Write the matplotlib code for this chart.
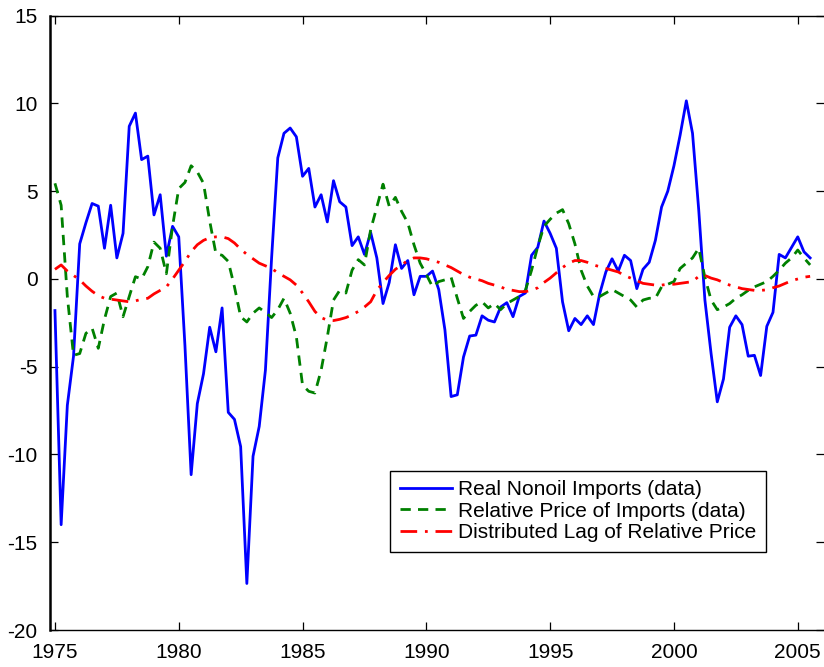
import matplotlib
matplotlib.use("Agg")
import matplotlib.pyplot as plt
import numpy as np

# quarterly observations, 1975Q1 .. 2005Q3
quarters = np.arange(1975.0, 2005.51, 0.25)

real_nonoil_imports = [
    -1.8, -14.0, -7.2, -4.4,      # 1975
    2.0, 3.2, 4.3, 4.15,          # 1976
    1.75, 4.2, 1.2, 2.6,          # 1977
    8.7, 9.45, 6.8, 7.0,          # 1978
    3.65, 4.8, 1.3, 3.0,          # 1979
    2.4, -3.8, -11.15, -7.1,      # 1980
    -5.4, -2.75, -4.15, -1.65,    # 1981
    -7.6, -8.0, -9.55, -17.35,    # 1982
    -10.1, -8.4, -5.2, 1.2,       # 1983
    6.9, 8.3, 8.6, 8.1,           # 1984
    5.85, 6.3, 4.1, 4.8,          # 1985
    3.25, 5.6, 4.4, 4.1,          # 1986
    1.9, 2.4, 1.4, 2.65,          # 1987
    1.2, -1.4, -0.2, 1.95,        # 1988
    0.6, 1.05, -0.9, 0.15,        # 1989
    0.15, 0.45, -0.6, -2.9,       # 1990
    -6.7, -6.6, -4.45, -3.25,     # 1991
    -3.2, -2.1, -2.35, -2.45,     # 1992
    -1.6, -1.35, -2.15, -1.0,     # 1993
    -0.8, 1.35, 1.8, 3.3,         # 1994
    2.6, 1.75, -1.3, -2.95,       # 1995
    -2.25, -2.6, -2.1, -2.6,      # 1996
    -0.85, 0.4, 1.15, 0.45,       # 1997
    1.35, 1.05, -0.55, 0.55,      # 1998
    0.95, 2.2, 4.1, 5.0,          # 1999
    6.45, 8.2, 10.15, 8.3,        # 2000
    3.95, -1.2, -4.25, -7.0,      # 2001
    -5.7, -2.75, -2.1, -2.6,      # 2002
    -4.4, -4.35, -5.5, -2.7,      # 2003
    -1.9, 1.4, 1.2, 1.8,          # 2004
    2.4, 1.55, 1.2,               # 2005
]

relative_price = [
    5.45, 4.2, -1.0, -4.35,
    -4.25, -3.1, -2.8, -3.95,
    -2.3, -1.0, -0.8, -2.15,
    -1.0, 0.13, 0.0, 0.7,
    2.1, 1.75, 0.3, 3.0,
    5.15, 5.5, 6.45, 6.1,
    5.45, 3.3, 1.45, 1.35,
    1.0, -0.45, -2.15, -2.45,
    -1.95, -1.65, -1.9, -2.2,
    -1.75, -1.1, -1.95, -3.3,
    -6.05, -6.4, -6.5, -5.2,
    -3.3, -1.2, -0.65, -0.8,
    0.5, 1.1, 0.8, 2.8,
    4.1, 5.4, 4.15, 4.65,
    3.85, 3.2, 1.95, 0.9,
    0.25, -0.45, -0.15, -0.05,
    0.1, -1.1, -2.25, -1.85,
    -1.5, -1.3, -1.65, -1.4,
    -1.75, -1.4, -1.2, -1.0,
    -0.65, 0.5, 1.85, 3.0,
    3.4, 3.75, 3.95, 3.15,
    2.0, 0.5, -0.4, -1.0,
    -1.0, -0.8, -0.6, -0.8,
    -1.0, -1.2, -1.6, -1.2,
    -1.1, -1.1, -0.45, -0.3,
    -0.15, 0.6, 0.9, 1.2,
    1.75, 0.1, -1.2, -1.75,
    -1.6, -1.4, -1.1, -0.9,
    -0.65, -0.45, -0.3, -0.15,
    0.15, 0.5, 0.9, 1.2,
    1.65, 1.2, 0.8,
]

distributed_lag = [
    0.55, 0.8, 0.45, 0.2,
    -0.05, -0.4, -0.7, -0.95,
    -1.1, -1.15, -1.2, -1.25,
    -1.3, -1.25, -1.15, -1.1,
    -0.85, -0.65, -0.45, 0.0,
    0.5, 1.0, 1.55, 1.95,
    2.2, 2.35, 2.4, 2.4,
    2.3, 2.05, 1.7, 1.4,
    1.15, 0.9, 0.75, 0.6,
    0.35, 0.15, -0.05, -0.35,
    -0.8, -1.3, -1.85, -2.2,
    -2.35, -2.37, -2.3, -2.2,
    -2.05, -1.85, -1.6, -1.3,
    -0.65, -0.2, 0.2, 0.55,
    0.8, 1.05, 1.2, 1.2,
    1.15, 1.05, 0.95, 0.8,
    0.65, 0.45, 0.25, 0.1,
    0.0, -0.1, -0.25, -0.35,
    -0.45, -0.6, -0.65, -0.72,
    -0.72, -0.65, -0.5, -0.2,
    0.05, 0.35, 0.65, 0.9,
    1.05, 1.05, 0.95, 0.8,
    0.7, 0.6, 0.5, 0.4,
    0.2, 0.05, -0.1, -0.25,
    -0.3, -0.35, -0.35, -0.3,
    -0.3, -0.25, -0.2, -0.15,
    0.15, 0.2, 0.05, -0.05,
    -0.2, -0.35, -0.45, -0.55,
    -0.6, -0.65, -0.65, -0.62,
    -0.5, -0.4, -0.25, -0.1,
    0.0, 0.1, 0.15,
]

labels = ["Real Nonoil Imports (data)",
          "Relative Price of Imports (data)",
          "Distributed Lag of Relative Price"]

plt.rcParams["font.family"] = ["Liberation Sans", "DejaVu Sans"]
plt.rcParams["axes.unicode_minus"] = False

fig = plt.figure(figsize=(8.24, 6.67), dpi=100)
ax = fig.add_axes([50 / 824, 1 - 630 / 667, 773.5 / 824, 614.3 / 667])

ax.plot(quarters, real_nonoil_imports, color="#0000ff", lw=2.0, label=labels[0])
ax.plot(quarters, relative_price, color="#008000", lw=2.0,
        linestyle=(0, (3.7, 2.6)), label=labels[1])
ax.plot(quarters, distributed_lag, color="#ff0000", lw=2.0,
        linestyle=(0, (6.0, 2.8, 1.0, 2.8)), label=labels[2])

ax.set_xlim(1974.8, 2006.04)
ax.set_ylim(-20, 15)
ax.set_xticks(range(1975, 2006, 5))
ax.set_yticks(range(-20, 16, 5))

ax.tick_params(direction="in", top=True, right=True, length=5.5, width=0.9,
               labelsize=15, pad=9)
ax.spines["left"].set_linewidth(1.8)
ax.spines["bottom"].set_linewidth(1.0)
ax.spines["top"].set_linewidth(1.0)
ax.spines["right"].set_visible(False)

leg = ax.legend(loc="lower left", bbox_to_anchor=(0.44, 0.1275), fontsize=15,
                fancybox=False, edgecolor="black", framealpha=1,
                handlelength=2.5, handletextpad=0.3, labelspacing=0.13,
                borderpad=0.45, borderaxespad=0)
leg.get_frame().set_linewidth(1.0)

fig.savefig("out.png", dpi=100)
